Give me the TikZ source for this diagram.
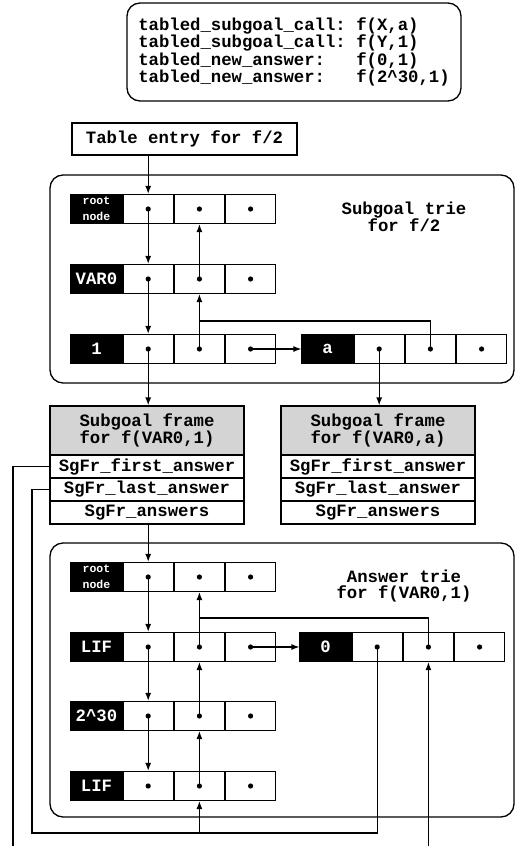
\documentclass[tikz,border=0pt]{standalone}
\usepackage{fontspec}
\setmonofont{Liberation Mono}
\usetikzlibrary{arrows.meta,calc}
\newcommand\rootfnt{\fontsize{11.5}{11}\selectfont}
\newcommand\trierow[4]{%
  \node[lbl] (#1-l) at (#2,#3) {#4};
  \node[cell, anchor=west] (#1-1) at (#1-l.east) {};
  \node[cell, anchor=west] (#1-2) at (#1-1.east) {};
  \node[cell, anchor=west] (#1-3) at (#1-2.east) {};
  \fill (#1-1.center) circle (2.6);
  \fill (#1-2.center) circle (2.6);
  \fill (#1-3.center) circle (2.6);
}
\newcommand\sgframe[3]{%
  \node[hdr] (#1h) at (#2,430.5) {Subgoal frame\\for #3};
  \node[frow] (#1a) at (#2,466.5) {SgFr\_first\_answer};
  \node[frow] (#1b) at (#2,489.5) {SgFr\_last\_answer};
  \node[frow] (#1c) at (#2,512.5) {SgFr\_answers};
}
\begin{document}
\begin{tikzpicture}[x=1pt,y=-1pt,
  every node/.style={font=\ttfamily\bfseries\fontsize{17.3}{16}\selectfont, inner sep=0pt},
  lbl/.style={fill=black, draw=black, line width=1.2pt, text=white, minimum width=51pt, minimum height=29pt, align=center},
  cell/.style={draw, line width=1.2pt, minimum width=50pt, minimum height=29pt, fill=white},
  hdr/.style={draw, line width=1.2pt, fill=black!17, minimum width=194pt, minimum height=49pt, align=center},
  frow/.style={draw, line width=1.2pt, fill=white, minimum width=194pt, minimum height=23pt},
  bigbox/.style={draw, line width=1.3pt, rounded corners=13pt},
  conn/.style={line width=1.2pt},
  arr/.style={conn, -{Latex[length=8pt,width=6pt]}}
]
\useasboundingbox (0,0) rectangle (515,846);

% call box
\node[bigbox, minimum width=334pt, minimum height=98pt, align=left] (calls) at (294,52)
 {tabled\_subgoal\_call:\phantom{x}f(X,a)\\
  tabled\_subgoal\_call:\phantom{x}f(Y,1)\\
  tabled\_new\_answer:\phantom{xxx}f(0,1)\\
  tabled\_new\_answer:\phantom{xxx}f(2\textasciicircum30,1)};

% table entry
\node[draw, line width=1.3pt, minimum width=225pt, minimum height=32pt] (te) at (184.5,139) {Table entry for f/2};

% subgoal trie
\node[bigbox, minimum width=464pt, minimum height=208pt] (strie) at (282,279) {};
\node[align=center] (stl) at (404,217) {Subgoal trie\\for f/2};
\trierow{s0}{96.5}{209}{\rootfnt root\\\rootfnt node}
\trierow{s1}{96.5}{279}{VAR0}
\trierow{s2}{96.5}{349}{1}
\trierow{sa}{327.5}{349}{a}

% subgoal frames
\sgframe{fa}{147}{f(VAR0,1)}
\sgframe{fb}{378}{f(VAR0,a)}

% answer trie
\node[bigbox, minimum width=464pt, minimum height=274pt] (atrie) at (282,680) {};
\node[align=center] (atl) at (404,586) {Answer trie\\for f(VAR0,1)};
\trierow{a0}{96.5}{577}{\rootfnt root\\\rootfnt node}
\trierow{a1}{96.5}{647}{LIF}
\trierow{a2}{96.5}{716}{2\textasciicircum30}
\trierow{a3}{96.5}{786}{LIF}
\trierow{az}{325.5}{647}{0}

% connectors: subgoal trie
\draw[arr] (te.south -| s0-1) -- (s0-1.north);
\draw[arr] (s0-1.center) -- (s1-1.north);
\draw[arr] (s1-2.center) -- (s0-2.south);
\draw[arr] (s1-1.center) -- (s2-1.north);
\draw[arr] (s2-2.center) -- (s1-2.south);
\draw[arr] (s2-3.center) -- (sa-l.west);
\draw[conn] (sa-2.center) |- ($(s2-2.center)+(0,-28)$);
\draw[arr] (s2-1.center) -- (s2-1 |- fah.north);
\draw[arr] (sa-1.center) -- (sa-1 |- fbh.north);

% connectors: answer trie
\draw[arr] (fac.south -| a0-1) -- (a0-1.north);
\draw[arr] (a0-1.center) -- (a1-1.north);
\draw[arr] (a1-2.center) -- (a0-2.south);
\draw[arr] (a1-3.center) -- (az-l.west);
\draw[conn] (az-2.center) |- ($(a1-2.center)+(0,-29)$);
\draw[arr] (a1-1.center) -- (a2-1.north);
\draw[arr] (a2-2.center) -- (a1-2.south);
\draw[arr] (a2-1.center) -- (a3-1.north);
\draw[arr] (a3-2.center) -- (a2-2.south);

% connectors: frame pointers
\coordinate (bl) at (32,833);
\coordinate (fl) at (13,846);
\draw[conn] (fab.west) -| (bl) -| (az-1.center);
\draw[arr] (a3-2 |- bl) -- (a3-2.south);
\draw[conn] (faa.west) -| (fl);
\draw[arr] (az-2 |- fl) -- (az-2.south);
\end{tikzpicture}
\end{document}
